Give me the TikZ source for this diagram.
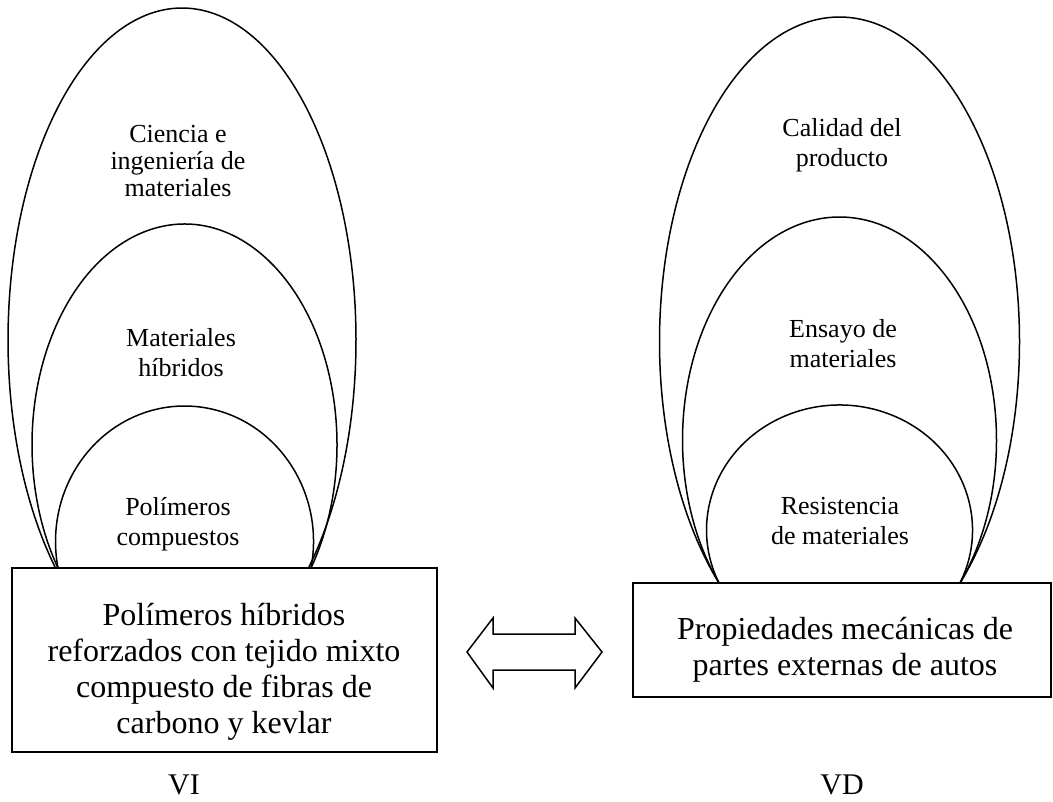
\documentclass[tikz,border=0pt]{standalone}
\usepackage{fontspec}
\setmainfont{Liberation Serif}
\usetikzlibrary{calc}

% Dome: elliptic arc through two base points, rising to a given top.
% #1 centre x, #2 base y, #3 half chord, #4 half width, #5 top y
\newcommand{\domecap}[5]{%
  \pgfmathsetmacro{\dphi}{acos((#3)/(#4))}%
  \pgfmathsetmacro{\drad}{((#2)-(#5))/(1+sin(\dphi))}%
  \draw[capline] ({#1+#3},#2) arc[start angle=\dphi, end angle={-180-\dphi}, x radius=#4, y radius=\drad];%
}

\tikzset{
  capline/.style={line width=1.5pt, black},
  boxnode/.style={draw, line width=1.5pt, fill=white, inner sep=0pt},
  smalltext/.style={align=center, inner sep=0pt, font=\fontsize{26}{30}\selectfont},
  bigtext/.style={align=center, inner sep=0pt, font=\fontsize{32}{36}\selectfont},
  vartext/.style={inner sep=0pt, font=\fontsize{30}{36}\selectfont},
  arrowline/.style={line width=1.5pt, line join=miter, fill=white},
}

\begin{document}
\begin{tikzpicture}[x=1pt, y=1pt, yscale=-1]
  \useasboundingbox (0,0) rectangle (1053,802);

  % left nest of domes
  \domecap{182}{568}{126.5}{174}{8}
  \domecap{184.5}{568}{126.5}{152.5}{224}
  \domecap{184.5}{568}{126.5}{129}{406}

  % right nest of domes
  \domecap{839.5}{583}{120.5}{180}{17}
  \domecap{839.5}{583}{120.5}{157}{217}
  \domecap{839.5}{583}{120.5}{133}{405}

  % dome labels
  \node[smalltext, font=\fontsize{26}{27}\selectfont] (cim) at (178,161) {Ciencia e\\ingeniería de\\materiales};
  \node[smalltext] (mh) at (181,353) {Materiales\\híbridos};
  \node[smalltext] (pc) at (178,524) {Polímeros\\compuestos};
  \node[smalltext] (cp) at (842,145) {Calidad del\\producto};
  \node[smalltext] (em) at (843,344) {Ensayo de\\materiales};
  \node[smalltext] (rm) at (840,521) {Resistencia\\de materiales};

  % variable boxes
  \node[boxnode, minimum width=425pt, minimum height=184pt] (lbox) at (224.5,660) {};
  \node[bigtext] (ltext) at (224,671.5) {Polímeros híbridos\\reforzados con tejido mixto\\compuesto de fibras de\\carbono y kevlar};
  \node[boxnode, minimum width=418pt, minimum height=114pt] (rbox) at (842,640) {};
  \node[bigtext] (rtext) at (845,650) {Propiedades mecánicas de\\partes externas de autos};

  % double-headed block arrow between the boxes
  \draw[arrowline] (467,652) -- (493,618) -- (493,634) -- (575,634) -- (575,618)
    -- (602,652) -- (575,688) -- (575,670) -- (493,670) -- (493,688) -- cycle;

  % variable tags
  \node[vartext] (vi) at (184,785) {VI};
  \node[vartext] (vd) at (842,785) {VD};
\end{tikzpicture}
\end{document}
